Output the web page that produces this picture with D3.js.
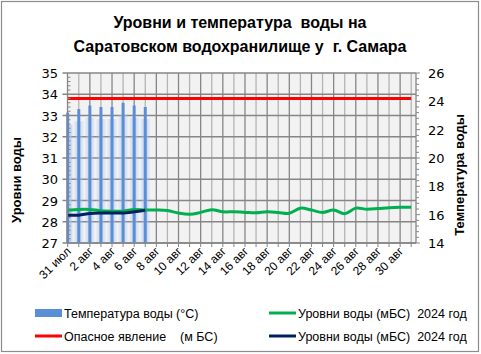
<!DOCTYPE html>
<html>
<head>
<meta charset="utf-8">
<script src="https://cdn.jsdelivr.net/npm/d3@7"></script>
<style>
  html, body { margin: 0; padding: 0; background: #fff; }
  svg text { font-family: "Liberation Sans", Arial, sans-serif; white-space: pre; }
</style>
</head>
<body>
<div id="chart"></div>
<script>
// даты по оси X (каждый день), подписи через один
const days = ['31 июл', '1 авг', '2 авг', '3 авг', '4 авг', '5 авг', '6 авг', '7 авг', '8 авг', '9 авг',
  '10 авг', '11 авг', '12 авг', '13 авг', '14 авг', '15 авг', '16 авг', '17 авг', '18 авг', '19 авг',
  '20 авг', '21 авг', '22 авг', '23 авг', '24 авг', '25 авг', '26 авг', '27 авг', '28 авг', '29 авг',
  '30 авг', '31 авг'];

// температура воды, °С (правая ось)
const temperature = [23.2, 23.45, 23.7, 23.6, 23.6, 23.9, 23.7, 23.6];

// уровни воды, м БС (левая ось)
const levelGreen = [28.55, 28.58, 28.58, 28.52, 28.5, 28.5, 28.58, 28.55, 28.55, 28.53,
  28.41, 28.35, 28.44, 28.57, 28.47, 28.47, 28.44, 28.42, 28.47, 28.44,
  28.4, 28.64, 28.55, 28.44, 28.55, 28.38, 28.64, 28.59, 28.62, 28.66,
  28.68, 28.68];
const levelNavy = [28.31, 28.31, 28.39, 28.41, 28.41, 28.41, 28.47, 28.54];

// опасное явление, м БС
const dangerLevel = 33.8;

const leftTicks = [27, 28, 29, 30, 31, 32, 33, 34, 35];
const rightTicks = [14, 16, 18, 20, 22, 24, 26];

const W = 481, H = 354;
const plot = { left: 67.5, right: 416, top: 73, bottom: 243 };

const svg = d3.select('#chart').append('svg')
  .attr('width', W).attr('height', H);

// рамка диаграммы
svg.append('rect')
  .attr('x', 1.5).attr('y', 1.5).attr('width', W - 4).attr('height', H - 4)
  .attr('fill', '#fff').attr('stroke', '#8c8c8c').attr('stroke-width', 1.2);

const x = d3.scaleLinear().domain([0, 31]).range([plot.left + 0.2, 411.2]);
const yL = d3.scaleLinear().domain([27, 35]).range([plot.bottom, plot.top]);
const yR = d3.scaleLinear().domain([14, 26]).range([plot.bottom, plot.top]);

// фон области построения
svg.append('rect')
  .attr('x', plot.left).attr('y', plot.top)
  .attr('width', plot.right - plot.left).attr('height', plot.bottom - plot.top)
  .attr('fill', '#f2f2f2');

// вертикальная сетка: основные (через день) и вспомогательные
svg.append('g').selectAll('line')
  .data(days.map((d, i) => i).filter(i => i > 0))
  .join('line')
  .attr('x1', i => x(i)).attr('x2', i => x(i))
  .attr('y1', plot.top).attr('y2', plot.bottom)
  .attr('stroke', i => i % 2 === 0 ? '#868686' : '#b4b4b4')
  .attr('stroke-width', 1.3);

// горизонтальная сетка
svg.append('g').selectAll('line')
  .data(leftTicks)
  .join('line')
  .attr('x1', plot.left - 5).attr('x2', plot.right)
  .attr('y1', d => yL(d)).attr('y2', d => yL(d))
  .attr('stroke', '#868686').attr('stroke-width', 1.3);

// столбцы температуры с размытым ореолом
const defs = svg.append('defs');
const grad = defs.append('linearGradient').attr('id', 'glow')
  .attr('x1', '0%').attr('x2', '100%').attr('y1', '0%').attr('y2', '0%');
grad.append('stop').attr('offset', '0%').attr('stop-color', '#a9c4ec').attr('stop-opacity', 0);
grad.append('stop').attr('offset', '50%').attr('stop-color', '#a9c4ec').attr('stop-opacity', 0.75);
grad.append('stop').attr('offset', '100%').attr('stop-color', '#a9c4ec').attr('stop-opacity', 0);

const bars = svg.append('g');
bars.selectAll('rect.glow')
  .data(temperature)
  .join('rect')
  .attr('class', 'glow')
  .attr('x', (d, i) => Math.max(plot.left, x(i) - 5.5))
  .attr('width', (d, i) => x(i) + 5.5 - Math.max(plot.left, x(i) - 5.5))
  .attr('y', d => yR(d) + 12)
  .attr('height', d => plot.bottom - yR(d) - 12)
  .attr('fill', 'url(#glow)');
bars.selectAll('rect.bar')
  .data(temperature)
  .join('rect')
  .attr('class', 'bar')
  .attr('x', (d, i) => x(i) - 1.5)
  .attr('width', 3)
  .attr('y', d => yR(d))
  .attr('height', d => plot.bottom - yR(d))
  .attr('fill', '#5a8fd8');

// линии
const lineL = d3.line()
  .x((d, i) => x(i))
  .y(d => yL(d))
  .curve(d3.curveCatmullRom.alpha(0.5));

svg.append('line')
  .attr('x1', x(0)).attr('x2', x(31))
  .attr('y1', yL(dangerLevel)).attr('y2', yL(dangerLevel))
  .attr('stroke', '#ff0000').attr('stroke-width', 3);

svg.append('path')
  .datum(levelGreen)
  .attr('d', lineL)
  .attr('fill', 'none').attr('stroke', '#00b050').attr('stroke-width', 3);

svg.append('path')
  .datum(levelNavy)
  .attr('d', lineL)
  .attr('fill', 'none').attr('stroke', '#002060').attr('stroke-width', 3);

// оси
const axisColor = '#868686';
const gl = svg.append('g');
gl.append('line')
  .attr('x1', plot.left).attr('x2', plot.left)
  .attr('y1', plot.top).attr('y2', plot.bottom)
  .attr('stroke', axisColor).attr('stroke-width', 1.3);
gl.selectAll('line.minor')
  .data(d3.range(0, 40).map(k => 27 + k * 0.2).filter(v => Math.abs(v - Math.round(v)) > 0.01))
  .join('line')
  .attr('class', 'minor')
  .attr('x1', plot.left).attr('x2', plot.left + 3)
  .attr('y1', d => yL(d)).attr('y2', d => yL(d))
  .attr('stroke', axisColor);
gl.selectAll('text')
  .data(leftTicks)
  .join('text')
  .attr('x', 58).attr('y', d => yL(d) + 5)
  .attr('text-anchor', 'end')
  .style('font-family', '"DejaVu Sans", Verdana, sans-serif')
  .style('font-size', '13px')
  .attr('fill', '#000')
  .text(d => d);

const gr = svg.append('g');
gr.append('line')
  .attr('x1', plot.right).attr('x2', plot.right)
  .attr('y1', plot.top).attr('y2', plot.bottom)
  .attr('stroke', axisColor).attr('stroke-width', 1.3);
gr.selectAll('line.tick')
  .data(d3.range(0, 31).map(k => 14 + k * 0.4))
  .join('line')
  .attr('class', 'tick')
  .attr('x1', plot.right).attr('x2', (d, i) => plot.right + (i % 5 === 0 ? 4 : 3))
  .attr('y1', d => yR(d)).attr('y2', d => yR(d))
  .attr('stroke', axisColor);
gr.selectAll('text')
  .data(rightTicks)
  .join('text')
  .attr('x', 428).attr('y', d => yR(d) + 5)
  .style('font-family', '"DejaVu Sans", Verdana, sans-serif')
  .style('font-size', '13px')
  .attr('fill', '#000')
  .text(d => d);

const gb = svg.append('g');
gb.append('line')
  .attr('x1', plot.left).attr('x2', plot.right)
  .attr('y1', plot.bottom).attr('y2', plot.bottom)
  .attr('stroke', axisColor).attr('stroke-width', 1.3);
gb.selectAll('line.tick')
  .data(days.map((d, i) => i))
  .join('line')
  .attr('class', 'tick')
  .attr('x1', i => x(i)).attr('x2', i => x(i))
  .attr('y1', plot.bottom).attr('y2', plot.bottom + 4)
  .attr('stroke', axisColor);
gb.selectAll('text')
  .data(days.map((d, i) => ({ d, i })).filter(o => o.i % 2 === 0))
  .join('text')
  .attr('transform', o => `translate(${x(o.i) + 4},${plot.bottom + 9}) rotate(-45)`)
  .attr('text-anchor', 'end')
  .style('font-size', '12px')
  .attr('fill', '#000')
  .text(o => o.d);

// подписи осей
svg.append('text')
  .attr('transform', `translate(21,${180}) rotate(-90)`)
  .attr('text-anchor', 'middle')
  .style('font-size', '13px').style('font-weight', 'bold')
  .text('Уровни воды');
svg.append('text')
  .attr('transform', `translate(464,${175}) rotate(-90)`)
  .attr('text-anchor', 'middle')
  .style('font-size', '13px').style('font-weight', 'bold')
  .text('Температура воды');

// заголовок
const title = svg.append('text')
  .attr('text-anchor', 'middle')
  .style('font-size', '16px').style('font-weight', 'bold');
title.append('tspan').attr('x', 240).attr('y', 28).text('Уровни и температура  воды на');
title.append('tspan').attr('x', 240).attr('y', 52).text('Саратовском водохранилище у  г. Самара');

// легенда
const legend = [
  { label: 'Температура воды (°С)', color: '#5a8fd8', type: 'rect', x: 35, y: 313 },
  { label: 'Опасное явление    (м БС)', color: '#ff0000', type: 'line', x: 35, y: 336 },
  { label: 'Уровни воды (мБС)  2024 год', color: '#00b050', type: 'line', x: 269, y: 313 },
  { label: 'Уровни воды (мБС)  2024 год', color: '#002060', type: 'line', x: 269, y: 336 },
];
const lg = svg.append('g').selectAll('g').data(legend).join('g')
  .attr('transform', d => `translate(${d.x},${d.y})`);
lg.filter(d => d.type === 'rect').append('rect')
  .attr('x', 0).attr('y', -4).attr('width', 27).attr('height', 8)
  .attr('fill', d => d.color);
lg.filter(d => d.type === 'line').append('line')
  .attr('x1', 0).attr('x2', 27).attr('y1', 0).attr('y2', 0)
  .attr('stroke', d => d.color).attr('stroke-width', 3);
lg.append('text')
  .attr('x', 29).attr('y', 4.5)
  .style('font-size', '12.5px')
  .text(d => d.label);
</script>
</body>
</html>
